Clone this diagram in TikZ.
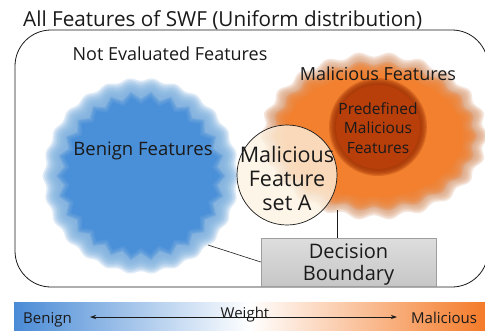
\documentclass[tikz,border=0pt]{standalone}
\usepackage{fontspec}
\setmainfont{Open Sans}
\usetikzlibrary{arrows.meta}

\definecolor{inkc}{HTML}{1A1A1A}
\definecolor{bluecore}{HTML}{4A90D9}
\definecolor{bluehalo}{HTML}{80B2E0}
\definecolor{orangehalo}{HTML}{DCA27C}
\definecolor{orangecore}{HTML}{F2802E}
\definecolor{redcore}{HTML}{B83E0A}
\definecolor{redrim}{HTML}{A23406}
\definecolor{creamfill}{HTML}{FDF3E2}
\definecolor{boxtop}{HTML}{DEDEDE}
\definecolor{boxbot}{HTML}{C6C6C6}
\definecolor{boxline}{HTML}{9E9E9E}
\definecolor{barblue}{HTML}{4A8BD6}
\definecolor{barorange}{HTML}{F47A28}

% wavy / toothed closed curve: centre (#1,#2), radii #3,#4, wave amplitude #5, wave count #6
\newcommand\wavyblob[6]{plot[variable=\t,domain=0:358,samples=180,smooth cycle]
  ({#1+((#3)+(#5)*cos(#6*\t))*cos(\t)},{#2+((#4)+(#5)*cos(#6*\t))*sin(\t)})}
\newcommand\toothblob[4]{plot[variable=\t,domain=0:360,samples=53]
  ({#1+((#3)+(#4)*cos(26*\t))*cos(\t)},{#2+((#3)+(#4)*cos(26*\t))*sin(\t)}) -- cycle}
\newcommand\fsz[2]{\fontsize{#1}{#2}\selectfont}

\tikzset{
  lbl/.style={text=inkc, inner sep=0pt},
  link/.style={draw=inkc, line width=0.6pt},
}

\begin{document}
\begin{tikzpicture}[x=1pt,y=-1pt]
\useasboundingbox (0,0) rectangle (485,330);
\clip (0,0) rectangle (485,330);
\fill[white] (0,0) rectangle (485,330);

% title and outer frame
\node[lbl, anchor=base west, font=\fsz{20.7}{24}] (title) at (23,26) {All Features of SWF (Uniform distribution)};
\draw[inkc, line width=0.8pt, rounded corners=36pt] (15,30) rectangle (488,287);
\node[lbl, anchor=base, font=\fsz{18}{21}] (notev) at (170,60) {Not Evaluated Features};

% benign cloud: soft halo, then toothed core
\foreach \k in {0,...,8}
  \fill[bluehalo, opacity=0.25] \wavyblob{141}{176}{84+1.6*\k}{84+1.6*\k}{1.5}{26};
\foreach \k in {0,...,4}
  \fill[bluecore, opacity=0.3] \toothblob{141}{176}{76+1.3*\k}{3.5};
\fill[bluecore] \toothblob{141}{176}{75}{3.5};
\node[lbl, anchor=base, font=\fsz{18.5}{22}] (benign) at (143,155) {Benign Features};

% malicious cloud: tan halo, orange body, dark predefined core
\foreach \k in {0,...,8}
  \fill[orangehalo, opacity=0.25] \wavyblob{374}{136}{99+1.6*\k}{69+1.6*\k}{2.5}{22};
\foreach \k in {0,...,6}
  \fill[orangecore, opacity=0.3] \wavyblob{374}{136}{89+2*\k}{61+2*\k}{2}{22};
\fill[orangecore] (374,136) ellipse[x radius=89, y radius=61];
\foreach \k in {0,...,5}
  \fill[redrim, opacity=0.3] (378,127) circle[radius={43+1.2*\k}];
\fill[redcore] (378,127) circle[radius=42];
\node[lbl, anchor=base, font=\fsz{18}{21}] (malf) at (378,80) {Malicious Features};
\node[lbl, align=center, font=\fsz{15.5}{19.5}, text=inkc] (predef) at (378,128)
  {Predefined\\Malicious\\Features};

% feature set A
\node[circle, draw=inkc, line width=0.7pt, fill=creamfill, fill opacity=0.78,
      minimum size=100pt, inner sep=0pt] (setA) at (287,175) {};
\node[lbl, align=center, font=\fsz{21.5}{24}] (setAtext) at ([yshift=-3pt]setA.center)
  {Malicious\\Feature\\set A};

% decision boundary box and its leader lines
\node[rectangle, draw=boxline, top color=boxtop, bottom color=boxbot,
      minimum width=175pt, minimum height=48pt, inner sep=0pt] (db) at (348.5,262) {};
\node[lbl, align=center, font=\fsz{20}{22}] (dbtext) at ([yshift=-3pt]db.center) {Decision\\Boundary};
\coordinate (orangeedge) at (337,210);
\coordinate (benignedge) at (208,245);
\draw[link] (db.north -| orangeedge) -- (orangeedge);
\draw[link] (db.west) -- (benignedge);

% weight scale
\shade[left color=barblue, right color=barorange, middle color=white] (14,302) rectangle (486,331);
\node[lbl, anchor=base west, font=\fsz{15}{18}] (lowend) at (23,323) {Benign};
\node[lbl, anchor=base west, font=\fsz{15}{18}] (highend) at (411,323) {Malicious};
\node[lbl, anchor=base, font=\fsz{15}{18}] (weight) at (245,318) {Weight};
\coordinate (arrl) at (90,317);
\coordinate (arrr) at (397,317);
\draw[inkc, line width=0.7pt, {Stealth[length=6pt,width=4pt]}-{Stealth[length=6pt,width=4pt]}] (arrl) -- (arrr);
\end{tikzpicture}
\end{document}
